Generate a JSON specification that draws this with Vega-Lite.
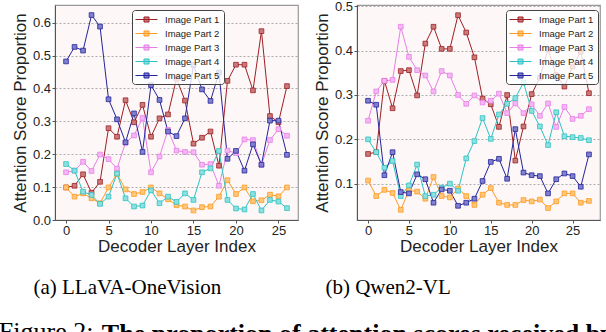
{
  "$schema": "https://vega.github.io/schema/vega-lite/v6.json",
  "padding": {"left": -2, "top": -1, "right": 3, "bottom": 0},
  "datasets": {
    "a": [
      {"layer": 0, "Image Part 1": 0.099, "Image Part 2": 0.099, "Image Part 3": 0.145, "Image Part 4": 0.170, "Image Part 5": 0.482},
      {"layer": 1, "Image Part 1": 0.104, "Image Part 2": 0.071, "Image Part 3": 0.150, "Image Part 4": 0.150, "Image Part 5": 0.526},
      {"layer": 2, "Image Part 1": 0.139, "Image Part 2": 0.081, "Image Part 3": 0.177, "Image Part 4": 0.086, "Image Part 5": 0.515},
      {"layer": 3, "Image Part 1": 0.083, "Image Part 2": 0.066, "Image Part 3": 0.149, "Image Part 4": 0.076, "Image Part 5": 0.623},
      {"layer": 4, "Image Part 1": 0.116, "Image Part 2": 0.051, "Image Part 3": 0.199, "Image Part 4": 0.049, "Image Part 5": 0.588},
      {"layer": 5, "Image Part 1": 0.279, "Image Part 2": 0.099, "Image Part 3": 0.185, "Image Part 4": 0.071, "Image Part 5": 0.367},
      {"layer": 6, "Image Part 1": 0.253, "Image Part 2": 0.140, "Image Part 3": 0.156, "Image Part 4": 0.141, "Image Part 5": 0.306},
      {"layer": 7, "Image Part 1": 0.364, "Image Part 2": 0.093, "Image Part 3": 0.235, "Image Part 4": 0.066, "Image Part 5": 0.236},
      {"layer": 8, "Image Part 1": 0.297, "Image Part 2": 0.079, "Image Part 3": 0.257, "Image Part 4": 0.041, "Image Part 5": 0.324},
      {"layer": 9, "Image Part 1": 0.350, "Image Part 2": 0.085, "Image Part 3": 0.310, "Image Part 4": 0.044, "Image Part 5": 0.207},
      {"layer": 10, "Image Part 1": 0.253, "Image Part 2": 0.099, "Image Part 3": 0.145, "Image Part 4": 0.090, "Image Part 5": 0.410},
      {"layer": 11, "Image Part 1": 0.309, "Image Part 2": 0.081, "Image Part 3": 0.193, "Image Part 4": 0.051, "Image Part 5": 0.365},
      {"layer": 12, "Image Part 1": 0.321, "Image Part 2": 0.063, "Image Part 3": 0.274, "Image Part 4": 0.071, "Image Part 5": 0.269},
      {"layer": 13, "Image Part 1": 0.430, "Image Part 2": 0.045, "Image Part 3": 0.211, "Image Part 4": 0.055, "Image Part 5": 0.255},
      {"layer": 14, "Image Part 1": 0.363, "Image Part 2": 0.041, "Image Part 3": 0.207, "Image Part 4": 0.081, "Image Part 5": 0.309},
      {"layer": 15, "Image Part 1": 0.232, "Image Part 2": 0.029, "Image Part 3": 0.206, "Image Part 4": 0.061, "Image Part 5": 0.471},
      {"layer": 16, "Image Part 1": 0.250, "Image Part 2": 0.039, "Image Part 3": 0.168, "Image Part 4": 0.145, "Image Part 5": 0.397},
      {"layer": 17, "Image Part 1": 0.269, "Image Part 2": 0.041, "Image Part 3": 0.170, "Image Part 4": 0.157, "Image Part 5": 0.362},
      {"layer": 18, "Image Part 1": 0.165, "Image Part 2": 0.071, "Image Part 3": 0.104, "Image Part 4": 0.210, "Image Part 5": 0.448},
      {"layer": 19, "Image Part 1": 0.423, "Image Part 2": 0.121, "Image Part 3": 0.211, "Image Part 4": 0.061, "Image Part 5": 0.186},
      {"layer": 20, "Image Part 1": 0.472, "Image Part 2": 0.079, "Image Part 3": 0.203, "Image Part 4": 0.035, "Image Part 5": 0.210},
      {"layer": 21, "Image Part 1": 0.472, "Image Part 2": 0.099, "Image Part 3": 0.245, "Image Part 4": 0.032, "Image Part 5": 0.150},
      {"layer": 22, "Image Part 1": 0.394, "Image Part 2": 0.057, "Image Part 3": 0.243, "Image Part 4": 0.079, "Image Part 5": 0.230},
      {"layer": 23, "Image Part 1": 0.574, "Image Part 2": 0.060, "Image Part 3": 0.168, "Image Part 4": 0.029, "Image Part 5": 0.168},
      {"layer": 24, "Image Part 1": 0.316, "Image Part 2": 0.077, "Image Part 3": 0.243, "Image Part 4": 0.061, "Image Part 5": 0.302},
      {"layer": 25, "Image Part 1": 0.297, "Image Part 2": 0.072, "Image Part 3": 0.276, "Image Part 4": 0.056, "Image Part 5": 0.302},
      {"layer": 26, "Image Part 1": 0.407, "Image Part 2": 0.099, "Image Part 3": 0.256, "Image Part 4": 0.036, "Image Part 5": 0.198}
    ],
    "b": [
      {"layer": 0, "Image Part 1": 0.167, "Image Part 2": 0.107, "Image Part 3": 0.242, "Image Part 4": 0.200, "Image Part 5": 0.287},
      {"layer": 1, "Image Part 1": 0.171, "Image Part 2": 0.072, "Image Part 3": 0.308, "Image Part 4": 0.171, "Image Part 5": 0.278},
      {"layer": 2, "Image Part 1": 0.332, "Image Part 2": 0.086, "Image Part 3": 0.332, "Image Part 4": 0.136, "Image Part 5": 0.119},
      {"layer": 3, "Image Part 1": 0.270, "Image Part 2": 0.079, "Image Part 3": 0.334, "Image Part 4": 0.151, "Image Part 5": 0.171},
      {"layer": 4, "Image Part 1": 0.354, "Image Part 2": 0.041, "Image Part 3": 0.454, "Image Part 4": 0.072, "Image Part 5": 0.081},
      {"layer": 5, "Image Part 1": 0.356, "Image Part 2": 0.085, "Image Part 3": 0.386, "Image Part 4": 0.096, "Image Part 5": 0.078},
      {"layer": 6, "Image Part 1": 0.299, "Image Part 2": 0.082, "Image Part 3": 0.356, "Image Part 4": 0.143, "Image Part 5": 0.121},
      {"layer": 7, "Image Part 1": 0.416, "Image Part 2": 0.066, "Image Part 3": 0.344, "Image Part 4": 0.072, "Image Part 5": 0.110},
      {"layer": 8, "Image Part 1": 0.454, "Image Part 2": 0.115, "Image Part 3": 0.308, "Image Part 4": 0.075, "Image Part 5": 0.057},
      {"layer": 9, "Image Part 1": 0.404, "Image Part 2": 0.072, "Image Part 3": 0.354, "Image Part 4": 0.091, "Image Part 5": 0.087},
      {"layer": 10, "Image Part 1": 0.404, "Image Part 2": 0.069, "Image Part 3": 0.344, "Image Part 4": 0.100, "Image Part 5": 0.084},
      {"layer": 11, "Image Part 1": 0.480, "Image Part 2": 0.089, "Image Part 3": 0.300, "Image Part 4": 0.084, "Image Part 5": 0.050},
      {"layer": 12, "Image Part 1": 0.441, "Image Part 2": 0.072, "Image Part 3": 0.280, "Image Part 4": 0.157, "Image Part 5": 0.057},
      {"layer": 13, "Image Part 1": 0.385, "Image Part 2": 0.052, "Image Part 3": 0.299, "Image Part 4": 0.196, "Image Part 5": 0.066},
      {"layer": 14, "Image Part 1": 0.292, "Image Part 2": 0.075, "Image Part 3": 0.283, "Image Part 4": 0.248, "Image Part 5": 0.106},
      {"layer": 15, "Image Part 1": 0.279, "Image Part 2": 0.090, "Image Part 3": 0.287, "Image Part 4": 0.201, "Image Part 5": 0.149},
      {"layer": 16, "Image Part 1": 0.228, "Image Part 2": 0.057, "Image Part 3": 0.303, "Image Part 4": 0.256, "Image Part 5": 0.156},
      {"layer": 17, "Image Part 1": 0.300, "Image Part 2": 0.052, "Image Part 3": 0.259, "Image Part 4": 0.280, "Image Part 5": 0.111},
      {"layer": 18, "Image Part 1": 0.152, "Image Part 2": 0.052, "Image Part 3": 0.281, "Image Part 4": 0.293, "Image Part 5": 0.223},
      {"layer": 19, "Image Part 1": 0.229, "Image Part 2": 0.063, "Image Part 3": 0.259, "Image Part 4": 0.328, "Image Part 5": 0.125},
      {"layer": 20, "Image Part 1": 0.302, "Image Part 2": 0.060, "Image Part 3": 0.279, "Image Part 4": 0.264, "Image Part 5": 0.119},
      {"layer": 21, "Image Part 1": 0.339, "Image Part 2": 0.064, "Image Part 3": 0.253, "Image Part 4": 0.229, "Image Part 5": 0.117},
      {"layer": 22, "Image Part 1": 0.403, "Image Part 2": 0.045, "Image Part 3": 0.281, "Image Part 4": 0.187, "Image Part 5": 0.078},
      {"layer": 23, "Image Part 1": 0.345, "Image Part 2": 0.060, "Image Part 3": 0.228, "Image Part 4": 0.261, "Image Part 5": 0.110},
      {"layer": 24, "Image Part 1": 0.319, "Image Part 2": 0.078, "Image Part 3": 0.273, "Image Part 4": 0.207, "Image Part 5": 0.123},
      {"layer": 25, "Image Part 1": 0.364, "Image Part 2": 0.078, "Image Part 3": 0.246, "Image Part 4": 0.205, "Image Part 5": 0.117},
      {"layer": 26, "Image Part 1": 0.398, "Image Part 2": 0.057, "Image Part 3": 0.253, "Image Part 4": 0.203, "Image Part 5": 0.093},
      {"layer": 27, "Image Part 1": 0.304, "Image Part 2": 0.061, "Image Part 3": 0.268, "Image Part 4": 0.198, "Image Part 5": 0.166}
    ]
  },
  "title": {"text": "Figure 2:", "orient": "bottom", "anchor": "start", "fontWeight": "normal", "fontSize": 26, "offset": 0, "dy": -28, "dx": -12},
  "vconcat": [
    {
      "title": {"text": "The proportion of attention scores received by", "orient": "bottom", "anchor": "start", "fontWeight": "bold", "fontSize": 26, "offset": 23, "dx": 91},
      "spacing": 13,
      "resolve": {"scale": {"fill": "independent", "stroke": "independent"}, "legend": {"fill": "independent", "stroke": "independent"}},
      "hconcat": [
        {
          "width": 243, "height": 215,
          "data": {"name": "a"},
          "transform": [{"fold": ["Image Part 1", "Image Part 2", "Image Part 3", "Image Part 4", "Image Part 5"], "as": ["part", "v"]}],
          "title": {"text": "(a) LLaVA-OneVision", "orient": "bottom", "anchor": "start", "dx": 22, "offset": 22},
          "encoding": {
            "x": {"field": "layer", "type": "quantitative", "scale": {"domain": [-1.3, 27.3], "nice": false, "zero": false}, "axis": {"values": [0, 5, 10, 15, 20, 25], "title": "Decoder Layer Index"}},
            "y": {"field": "v", "type": "quantitative", "scale": {"domain": [0, 0.6535], "nice": false, "zero": false}, "axis": {"values": [0, 0.1, 0.2, 0.3, 0.4, 0.5, 0.6], "format": ".1f", "title": "Attention Score Proportion"}}
          },
          "layer": [
            {"mark": {"type": "line", "strokeWidth": 1},
             "encoding": {"stroke": {"field": "part", "type": "nominal", "scale": {"domain": ["Image Part 1", "Image Part 2", "Image Part 3", "Image Part 4", "Image Part 5"], "range": ["#9e1f24", "#ff9a22", "#e77fe7", "#2cc3c3", "#24249c"]},
               "legend": {"title": null, "orient": "none", "legendX": 77, "legendY": 5, "symbolType": "M-2.2,0H2.2M-0.5,-0.5H0.5V0.5H-0.5Z", "symbolSize": 100, "symbolOffset": 5, "symbolStrokeWidth": 1, "labelFontSize": 9.5, "labelFont": "Liberation Sans", "labelColor": "#222", "labelOffset": 13, "rowPadding": 4, "padding": 4, "cornerRadius": 3, "strokeColor": "#444", "fillColor": "rgba(255,255,255,0.8)"}}}},
            {"mark": {"type": "point", "shape": "square", "filled": true, "size": 22, "strokeWidth": 0.8, "opacity": 1},
             "encoding": {
               "stroke": {"field": "part", "type": "nominal", "scale": {"domain": ["Image Part 1", "Image Part 2", "Image Part 3", "Image Part 4", "Image Part 5"], "range": ["#9e1f24", "#ff9a22", "#e77fe7", "#2cc3c3", "#24249c"]},
                 "legend": {"title": null, "orient": "none", "legendX": 77, "legendY": 5, "symbolType": "M-2.2,0H2.2M-0.5,-0.5H0.5V0.5H-0.5Z", "symbolSize": 100, "symbolOffset": 5, "symbolStrokeWidth": 1, "labelFontSize": 9.5, "labelFont": "Liberation Sans", "labelColor": "#222", "labelOffset": 13, "rowPadding": 4, "padding": 4, "cornerRadius": 3, "strokeColor": "#444", "fillColor": "rgba(255,255,255,0.8)"}},
               "fill": {"field": "part", "type": "nominal", "scale": {"domain": ["Image Part 1", "Image Part 2", "Image Part 3", "Image Part 4", "Image Part 5"], "range": ["#c97a7a", "#ffc77a", "#f3b8f3", "#8ee0e0", "#8080cc"]},
                 "legend": {"title": null, "orient": "none", "legendX": 77, "legendY": 5, "symbolType": "M-2.2,0H2.2M-0.5,-0.5H0.5V0.5H-0.5Z", "symbolSize": 100, "symbolOffset": 5, "symbolStrokeWidth": 1, "labelFontSize": 9.5, "labelFont": "Liberation Sans", "labelColor": "#222", "labelOffset": 13, "rowPadding": 4, "padding": 4, "cornerRadius": 3, "strokeColor": "#444", "fillColor": "rgba(255,255,255,0.8)"}}
             }}
          ]
        },
        {
          "width": 243, "height": 215,
          "data": {"name": "b"},
          "transform": [{"fold": ["Image Part 1", "Image Part 2", "Image Part 3", "Image Part 4", "Image Part 5"], "as": ["part", "v"]}],
          "title": {"text": "(b) Qwen2-VL", "orient": "bottom", "anchor": "start", "dx": 12, "offset": 22},
          "encoding": {
            "x": {"field": "layer", "type": "quantitative", "scale": {"domain": [-1.35, 28.35], "nice": false, "zero": false}, "axis": {"values": [0, 5, 10, 15, 20, 25], "title": "Decoder Layer Index"}},
            "y": {"field": "v", "type": "quantitative", "scale": {"domain": [0.018, 0.503], "nice": false, "zero": false}, "axis": {"values": [0.1, 0.2, 0.3, 0.4, 0.5], "format": ".1f", "title": "Attention Score Proportion"}}
          },
          "layer": [
            {"mark": {"type": "line", "strokeWidth": 1},
             "encoding": {"stroke": {"field": "part", "type": "nominal", "scale": {"domain": ["Image Part 1", "Image Part 2", "Image Part 3", "Image Part 4", "Image Part 5"], "range": ["#9e1f24", "#ff9a22", "#e77fe7", "#2cc3c3", "#24249c"]},
               "legend": {"title": null, "orient": "none", "legendX": 149, "legendY": 5, "symbolType": "M-2.2,0H2.2M-0.5,-0.5H0.5V0.5H-0.5Z", "symbolSize": 100, "symbolOffset": 5, "symbolStrokeWidth": 1, "labelFontSize": 9.5, "labelFont": "Liberation Sans", "labelColor": "#222", "labelOffset": 13, "rowPadding": 4, "padding": 4, "cornerRadius": 3, "strokeColor": "#444", "fillColor": "rgba(255,255,255,0.8)"}}}},
            {"mark": {"type": "point", "shape": "square", "filled": true, "size": 22, "strokeWidth": 0.8, "opacity": 1},
             "encoding": {
               "stroke": {"field": "part", "type": "nominal", "scale": {"domain": ["Image Part 1", "Image Part 2", "Image Part 3", "Image Part 4", "Image Part 5"], "range": ["#9e1f24", "#ff9a22", "#e77fe7", "#2cc3c3", "#24249c"]},
                 "legend": {"title": null, "orient": "none", "legendX": 149, "legendY": 5, "symbolType": "M-2.2,0H2.2M-0.5,-0.5H0.5V0.5H-0.5Z", "symbolSize": 100, "symbolOffset": 5, "symbolStrokeWidth": 1, "labelFontSize": 9.5, "labelFont": "Liberation Sans", "labelColor": "#222", "labelOffset": 13, "rowPadding": 4, "padding": 4, "cornerRadius": 3, "strokeColor": "#444", "fillColor": "rgba(255,255,255,0.8)"}},
               "fill": {"field": "part", "type": "nominal", "scale": {"domain": ["Image Part 1", "Image Part 2", "Image Part 3", "Image Part 4", "Image Part 5"], "range": ["#c97a7a", "#ffc77a", "#f3b8f3", "#8ee0e0", "#8080cc"]},
                 "legend": {"title": null, "orient": "none", "legendX": 149, "legendY": 5, "symbolType": "M-2.2,0H2.2M-0.5,-0.5H0.5V0.5H-0.5Z", "symbolSize": 100, "symbolOffset": 5, "symbolStrokeWidth": 1, "labelFontSize": 9.5, "labelFont": "Liberation Sans", "labelColor": "#222", "labelOffset": 13, "rowPadding": 4, "padding": 4, "cornerRadius": 3, "strokeColor": "#444", "fillColor": "rgba(255,255,255,0.8)"}}
             }}
          ]
        }
      ]
    }
  ],
  "config": {
    "font": "Liberation Sans",
    "view": {"fill": "#fdf7f7", "stroke": "#999", "strokeWidth": 1.2},
    "axis": {"labelFont": "Liberation Sans", "labelFontSize": 13, "labelColor": "#222", "titleFont": "Liberation Sans", "titleFontSize": 17, "titleFontWeight": "normal", "titleColor": "#222", "domainColor": "#555", "tickColor": "#555", "tickSize": 3, "labelPadding": 1.5, "gridColor": "#999", "gridDash": [2, 2], "gridWidth": 0.8},
    "axisX": {"grid": false, "titlePadding": 1},
    "axisY": {"grid": true, "titlePadding": 3},
    "title": {"font": "Liberation Serif", "fontSize": 21, "fontWeight": "normal", "color": "#000"}
  }
}
